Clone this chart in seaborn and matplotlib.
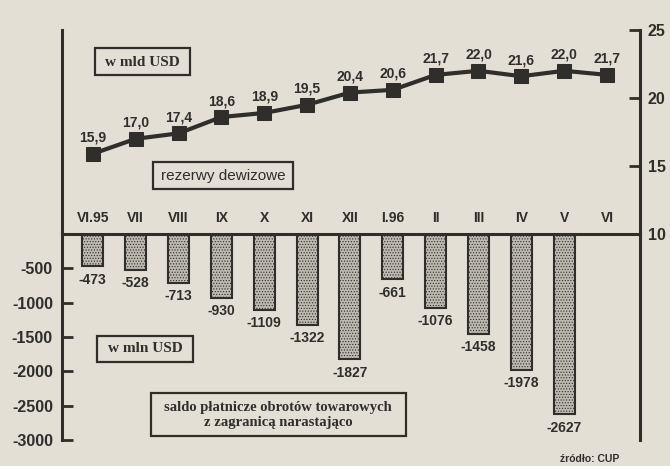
import matplotlib.pyplot as plt
import seaborn as sns
import numpy as np
from matplotlib.patches import Rectangle

months = ['VI.95', 'VII', 'VIII', 'IX', 'X', 'XI', 'XII', 'I.96', 'II', 'III', 'IV', 'V', 'VI']
reserves = [15.9, 17.0, 17.4, 18.6, 18.9, 19.5, 20.4, 20.6, 21.7, 22.0, 21.6, 22.0, 21.7]
saldo = [-473, -528, -713, -930, -1109, -1322, -1827, -661, -1076, -1458, -1978, -2627]
right_ticks = [10, 15, 20, 25]
left_ticks = [-3000, -2500, -2000, -1500, -1000, -500]

sns.set_style('white')
plt.rcParams['font.family'] = ['Liberation Sans', 'DejaVu Sans']
plt.rcParams['hatch.linewidth'] = 0.5

ink = '#2f2e2b'
paper = '#e3dfd4'
W, H = 670, 466

fig = plt.figure(figsize=(W / 100, H / 100), dpi=100, facecolor=paper)
ax_top = fig.add_axes([62 / W, 1 - 234 / H, (640 - 62) / W, 204 / H])
ax_bot = fig.add_axes([62 / W, 1 - 440 / H, (640 - 62) / W, 206 / H])
for ax in (ax_top, ax_bot):
    ax.set_facecolor('none')

# upper part: currency reserves (bn USD), right scale
sns.lineplot(x=np.arange(len(months)), y=reserves, ax=ax_top, color=ink, lw=3,
             marker='s', markersize=10, markeredgecolor=ink)
for i, v in enumerate(reserves):
    ax_top.annotate(f'{v:.1f}'.replace('.', ','), (i, v), xytext=(0, 11.5),
                    textcoords='offset points', ha='center', va='center',
                    fontsize=10, fontweight='bold', color=ink)
for i, m in enumerate(months):
    ax_top.text(i, 0.078, m, transform=ax_top.get_xaxis_transform(), ha='center',
                va='center', fontsize=10, fontweight='bold', color=ink)

ax_top.set_xlim(-0.72, 12.77)
ax_top.set_ylim(10, 25)
ax_top.set_yticks(right_ticks)
ax_top.set_xticks([])
ax_top.yaxis.tick_right()
ax_top.tick_params(axis='y', direction='in', length=8, width=2, colors=ink,
                   labelsize=11.5, pad=5.5, right=True, left=False)
for lab in ax_top.get_yticklabels():
    lab.set_fontweight('bold')
ax_top.set_xlabel('')
ax_top.set_ylabel('')
for side in ('top', 'bottom'):
    ax_top.spines[side].set_visible(False)
for side in ('left', 'right'):
    ax_top.spines[side].set_linewidth(2.2)
    ax_top.spines[side].set_color(ink)

# lower part: trade balance (mln USD), left scale
sns.barplot(x=months[:len(saldo)], y=saldo, order=months, ax=ax_bot, color='#bdb9ae',
            saturation=1, width=0.49, edgecolor=ink, linewidth=1.5, hatch='......')
for i, v in enumerate(saldo):
    ax_bot.annotate(f'{v}', (i, v), xytext=(0, -9.5), textcoords='offset points',
                    ha='center', va='center', fontsize=10, fontweight='bold', color=ink)

ax_bot.set_xlim(-0.72, 12.77)
ax_bot.set_ylim(-3000, 0)
ax_bot.set_yticks(left_ticks)
ax_bot.set_yticklabels([str(t) for t in left_ticks], fontweight='bold')
ax_bot.set_xticks([])
ax_bot.tick_params(axis='y', direction='in', length=8, width=2, colors=ink,
                   labelsize=11.5, pad=6.5, left=True, right=False)
ax_bot.set_xlabel('')
ax_bot.set_ylabel('')
ax_bot.spines['bottom'].set_visible(False)
for side in ('left', 'right', 'top'):
    ax_bot.spines[side].set_linewidth(2.2)
    ax_bot.spines[side].set_color(ink)


def box(x0, y0, x1, y1):
    fig.add_artist(Rectangle((x0 / W, 1 - y1 / H), (x1 - x0) / W, (y1 - y0) / H,
                             transform=fig.transFigure, fill=False, ec=ink, lw=1.6))


serif = ['Liberation Serif', 'DejaVu Serif']
box(95, 48, 190, 75)
fig.text(142 / W, 1 - 62 / H, 'w mld USD', family=serif, fontweight='bold',
         fontsize=11, ha='center', va='center', color=ink)
box(153, 162, 293, 189)
fig.text(223 / W, 1 - 176 / H, 'rezerwy dewizowe', fontsize=11, ha='center',
         va='center', color=ink)
box(97, 336, 193, 362)
fig.text(145 / W, 1 - 349 / H, 'w mln USD', family=serif, fontweight='bold',
         fontsize=11, ha='center', va='center', color=ink)
box(151, 393, 406, 436)
fig.text(278 / W, 1 - 415 / H, 'saldo płatnicze obrotów towarowych\nz zagranicą narastająco',
         family=serif, fontweight='bold', fontsize=10.5, ha='center', va='center',
         linespacing=1.25, color=ink)
fig.text(590 / W, 1 - 459 / H, 'źródło: CUP', fontweight='bold', fontsize=7.5,
         ha='center', va='center', color=ink)

fig.savefig('out.png', dpi=100, facecolor=paper)
